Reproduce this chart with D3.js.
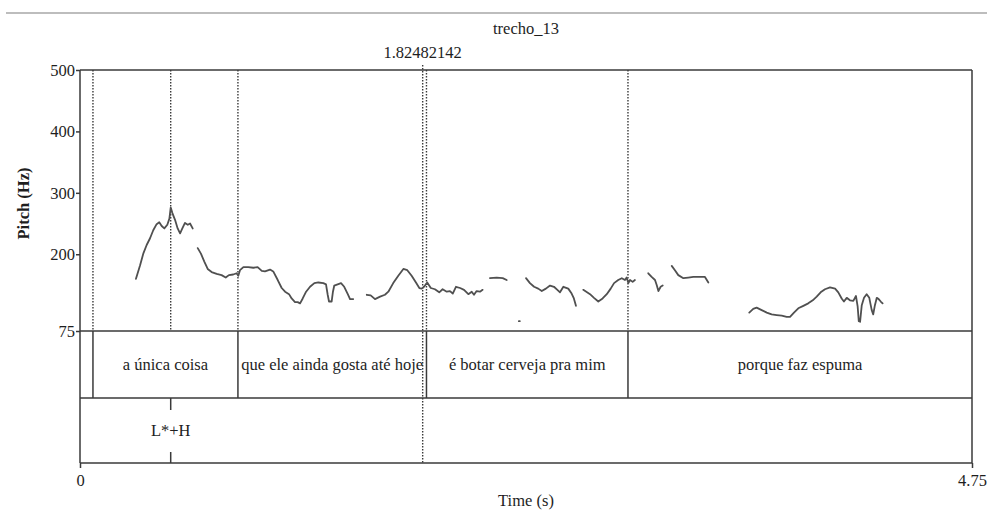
<!DOCTYPE html>
<html>
<head>
<meta charset="utf-8">
<script src="https://cdn.jsdelivr.net/npm/d3@7"></script>
<style>
  html, body { margin: 0; padding: 0; background: #fff; }
  svg { display: block; }
  svg text { font-family: "Liberation Serif", "Times New Roman", Times, "DejaVu Serif", serif; fill: #1e1e1e; }
</style>
</head>
<body>
<svg id="chart" width="987" height="513"></svg>
<script>
// ---- data (time in s, pitch in Hz) ----
const title = "trecho_13";
const cursorTime = 1.82482142;
const timeTicks = [0, 4.75];
const pitchTicks = [75, 200, 300, 400, 500];

// tier 1: words (interval tier)
const wordBounds = [0, 0.069, 0.841, 1.845, 2.918, 4.75];
const wordLabels = ["", "a única coisa", "que ele ainda gosta até hoje", "é botar cerveja pra mim", "porque faz espuma"];

// tier 2: tones (point tier)
const toneTimes = [0.483];
const toneLabels = ["L*+H"];

// pitch contour, one array per voiced stretch
const contour1 = [[0.298,160],[0.320,182],[0.337,201],[0.355,215],[0.373,226],[0.390,239],[0.408,249],[0.422,252],
  [0.435,246],[0.449,242],[0.465,248],[0.476,258],[0.483,276],[0.492,267],[0.506,256],[0.520,242],[0.533,234],
  [0.545,242],[0.559,251],[0.574,248],[0.586,250],[0.600,242]];
const contour2 = [[0.627,210],[0.644,201],[0.662,188],[0.680,176],[0.701,171],[0.728,168],[0.754,166],[0.776,162],
  [0.793,166],[0.816,167],[0.834,169],[0.843,165],[0.852,174],[0.870,179],[0.896,179],[0.923,178],[0.946,179],
  [0.968,173],[0.985,172],[1.012,175],[1.029,172],[1.053,158],[1.074,145],[1.092,139],[1.113,135],[1.127,128],
  [1.145,122],[1.159,122],[1.172,120],[1.186,128],[1.204,139],[1.225,147],[1.248,153],[1.269,154],[1.296,153],
  [1.310,151],[1.319,134],[1.326,123],[1.340,123],[1.347,139],[1.354,149],[1.372,151],[1.390,153],[1.407,147],
  [1.426,135],[1.438,127],[1.455,127]];
const contour3 = [[1.527,134],[1.548,133],[1.571,127],[1.598,131],[1.624,134],[1.642,139],[1.668,153],[1.695,165],
  [1.722,176],[1.743,174],[1.766,165],[1.789,154],[1.807,145],[1.820,144],[1.832,147],[1.849,154],[1.868,145],
  [1.890,143],[1.913,138],[1.931,143],[1.953,139],[1.970,140],[1.985,136],[2.002,147],[2.024,145],[2.045,142],
  [2.068,135],[2.086,139],[2.098,134],[2.112,140],[2.130,139],[2.144,142]];
const contour4 = [[2.183,161],[2.219,162],[2.251,161],[2.272,158]];
const contour5 = [[2.337,91],[2.342,91]];
const contour6 = [[2.375,161],[2.396,153],[2.418,147],[2.440,144],[2.459,140],[2.481,144],[2.503,149],[2.524,147],
  [2.542,142],[2.556,138],[2.574,147],[2.600,144],[2.618,136],[2.630,128],[2.641,116]];
const contour7 = [[2.680,142],[2.716,135],[2.737,129],[2.760,123],[2.783,128],[2.805,135],[2.826,144],[2.844,153],
  [2.866,158],[2.885,161],[2.902,158],[2.911,162],[2.920,153],[2.929,158],[2.943,155],[2.955,158]];
const contour8 = [[3.026,169],[3.044,163],[3.062,158],[3.071,150],[3.080,140],[3.092,147],[3.103,149]];
const contour9 = [[3.151,181],[3.168,174],[3.186,166],[3.213,161],[3.239,162],[3.266,163],[3.302,163],[3.328,163],
  [3.346,154]];
const contour10 = [[3.564,105],[3.585,111],[3.603,113],[3.630,109],[3.657,105],[3.683,102],[3.710,101],[3.737,100],
  [3.763,98],[3.781,98],[3.802,105],[3.825,112],[3.852,116],[3.878,120],[3.902,125],[3.923,131],[3.944,138],
  [3.967,143],[3.994,146],[4.021,144],[4.038,138],[4.056,128],[4.068,123],[4.083,129],[4.100,125],[4.118,124],
  [4.132,132],[4.141,115],[4.147,91],[4.154,90],[4.163,117],[4.175,129],[4.189,135],[4.203,129],[4.216,109],
  [4.224,102],[4.233,117],[4.243,129],[4.253,127],[4.264,123],[4.274,120]];

const contours = [contour1, contour2, contour3, contour4, contour5, contour6, contour7, contour8, contour9, contour10];

// ---- layout ----
const svg = d3.select("#chart");
const mLeft = 80, mRight = 972, mTop = 70, pitchBottom = 331, tier1Bottom = 398, mBottom = 463;
const ink = "#3a3a3a";
const serif = "'Liberation Serif', 'Times New Roman', Times, 'DejaVu Serif', serif";

const x = d3.scaleLinear().domain([timeTicks[0], timeTicks[1]]).range([mLeft, mRight]);
const y = d3.scaleLinear().domain([75, 500]).range([pitchBottom, mTop]);

// grey rule at top of the screenshot
svg.append("line")
   .attr("x1", 6).attr("x2", 987).attr("y1", 13).attr("y2", 13)
   .attr("stroke", "#bdbdbd").attr("stroke-width", 2);

// title
svg.append("text")
   .attr("x", (mLeft + mRight) / 2).attr("y", 34)
   .attr("text-anchor", "middle").attr("font-size", 16.5)
   .text(title);

// dotted boundary extensions in pitch area
const innerBounds = wordBounds.slice(1, -1);
svg.append("g").selectAll("line")
   .data(innerBounds.concat(toneTimes))
   .enter().append("line")
   .attr("x1", d => x(d)).attr("x2", d => x(d))
   .attr("y1", mTop).attr("y2", pitchBottom)
   .attr("stroke", ink).attr("stroke-width", 1.4)
   .attr("stroke-dasharray", "1.4,1.6");

// cursor
svg.append("line")
   .attr("x1", x(cursorTime)).attr("x2", x(cursorTime))
   .attr("y1", mTop - 5).attr("y2", mBottom)
   .attr("stroke", ink).attr("stroke-width", 1.4)
   .attr("stroke-dasharray", "1.4,1.6");
svg.append("text")
   .attr("x", x(cursorTime)).attr("y", 58)
   .attr("text-anchor", "middle").attr("font-size", 16.5)
   .text(cursorTime.toFixed(8));

// pitch contour
const line = d3.line().x(d => x(d[0])).y(d => y(d[1]));
svg.append("g").selectAll("path")
   .data(contours)
   .enter().append("path")
   .attr("d", line)
   .attr("fill", "none")
   .attr("stroke", "#505050")
   .attr("stroke-width", 1.8)
   .attr("stroke-linejoin", "round")
   .attr("stroke-linecap", "round");

// frame and tier separators
svg.append("g").selectAll("line")
   .data([mTop, pitchBottom, tier1Bottom, mBottom])
   .enter().append("line")
   .attr("x1", mLeft).attr("x2", mRight)
   .attr("y1", d => d).attr("y2", d => d)
   .attr("stroke", ink).attr("stroke-width", 1.5);
svg.append("g").selectAll("line")
   .data([mLeft, mRight])
   .enter().append("line")
   .attr("x1", d => d).attr("x2", d => d)
   .attr("y1", mTop).attr("y2", mBottom)
   .attr("stroke", ink).attr("stroke-width", 1.5);

// tier 1 boundaries and labels
svg.append("g").selectAll("line")
   .data(innerBounds)
   .enter().append("line")
   .attr("x1", d => x(d)).attr("x2", d => x(d))
   .attr("y1", pitchBottom).attr("y2", tier1Bottom)
   .attr("stroke", ink).attr("stroke-width", 1.5);
svg.append("g").selectAll("text")
   .data(wordLabels)
   .enter().append("text")
   .attr("x", (d, i) => (x(wordBounds[i]) + x(wordBounds[i + 1])) / 2)
   .attr("y", (pitchBottom + tier1Bottom) / 2 + 5.5)
   .attr("text-anchor", "middle").attr("font-size", 16.5)
   .text(d => d);

// tier 2 point marks and labels
const tones = svg.append("g").selectAll("g")
   .data(toneTimes)
   .enter().append("g");
tones.append("line")
   .attr("x1", d => x(d)).attr("x2", d => x(d))
   .attr("y1", tier1Bottom).attr("y2", tier1Bottom + 12)
   .attr("stroke", ink).attr("stroke-width", 1.5);
tones.append("line")
   .attr("x1", d => x(d)).attr("x2", d => x(d))
   .attr("y1", mBottom - 11).attr("y2", mBottom)
   .attr("stroke", ink).attr("stroke-width", 1.5);
tones.append("text")
   .attr("x", d => x(d)).attr("y", (tier1Bottom + mBottom) / 2 + 5.5)
   .attr("text-anchor", "middle").attr("font-size", 16.5)
   .text((d, i) => toneLabels[i]);

// axes
const yAxis = svg.append("g")
   .attr("transform", `translate(${mLeft},0)`)
   .call(d3.axisLeft(y).tickValues(pitchTicks).tickSize(4).tickPadding(1).tickFormat(d3.format("d")));
const xAxis = svg.append("g")
   .attr("transform", `translate(0,${mBottom})`)
   .call(d3.axisBottom(x).tickValues(timeTicks).tickSize(5).tickPadding(6).tickFormat(d => d === 0 ? "0" : d.toFixed(2)));
[yAxis, xAxis].forEach(g => {
  g.attr("font-family", serif);
  g.select(".domain").remove();
  g.selectAll("line").attr("stroke", ink).attr("stroke-width", 1.5);
  g.selectAll("text").attr("font-size", 16.5).attr("fill", "#1e1e1e");
});

// axis titles
svg.append("text")
   .attr("transform", `translate(29,${(mTop + pitchBottom) / 2 + 3}) rotate(-90)`)
   .attr("text-anchor", "middle").attr("font-size", 16.5)
   .attr("font-weight", "bold")
   .text("Pitch (Hz)");
svg.append("text")
   .attr("x", (mLeft + mRight) / 2).attr("y", 506)
   .attr("text-anchor", "middle").attr("font-size", 16.5)
   .text("Time (s)");
</script>
</body>
</html>
